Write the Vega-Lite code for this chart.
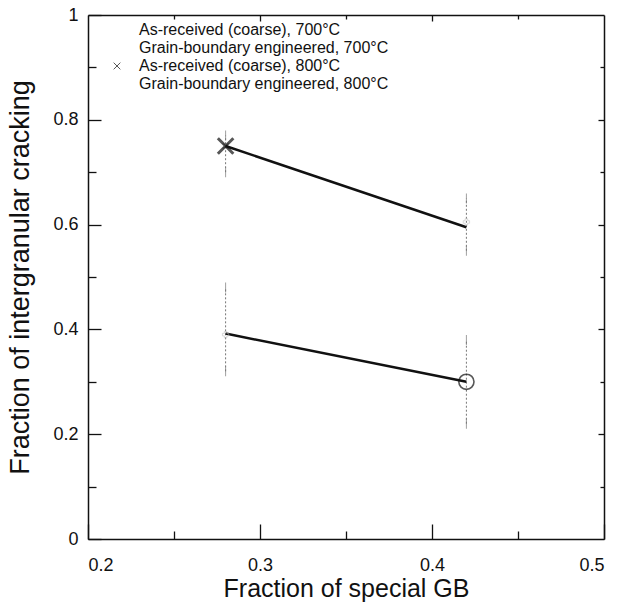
{
  "$schema": "https://vega.github.io/schema/vega-lite/v6.json",
  "width": 516,
  "height": 524,
  "autosize": {"type": "none"},
  "padding": {"left": 88, "top": 15, "right": 16, "bottom": 71},
  "background": "white",
  "config": {
    "font": "Liberation Sans",
    "view": {"stroke": null},
    "axis": {"domainColor": "#111", "domainWidth": 1.5, "tickColor": "#111", "tickWidth": 1.3, "labelColor": "#111", "titleColor": "#111", "grid": false}
  },
  "datasets": {
    "pts": [
      {"series": "As-received (coarse), 700°C", "gb": 0.28, "frac": 0.39, "lo": 0.32, "hi": 0.48},
      {"series": "Grain-boundary engineered, 700°C", "gb": 0.42, "frac": 0.30, "lo": 0.22, "hi": 0.38},
      {"series": "As-received (coarse), 800°C", "gb": 0.28, "frac": 0.75, "lo": 0.70, "hi": 0.77},
      {"series": "Grain-boundary engineered, 800°C", "gb": 0.42, "frac": 0.605, "lo": 0.55, "hi": 0.65}
    ],
    "fit": [
      {"temp": "700", "gb": 0.28, "frac": 0.392},
      {"temp": "700", "gb": 0.42, "frac": 0.30},
      {"temp": "800", "gb": 0.28, "frac": 0.75},
      {"temp": "800", "gb": 0.42, "frac": 0.595}
    ]
  },
  "resolve": {"axis": {"x": "independent", "y": "independent"}},
  "layer": [
    {
      "data": {"name": "pts"},
      "mark": {"type": "rule", "color": "#777", "strokeWidth": 1, "strokeDash": [2, 2]},
      "encoding": {
        "x": {"field": "gb", "type": "quantitative", "scale": {"domain": [0.2, 0.5], "nice": false, "zero": false},
          "axis": {"orient": "bottom", "title": "Fraction of special GB", "titleFontSize": 25, "titleFontWeight": "normal", "titlePadding": 2,
            "values": [0.2, 0.25, 0.3, 0.35, 0.4, 0.45, 0.5], "labelFontSize": 18, "labelPadding": 32,
            "labelExpr": "abs(datum.value*10-round(datum.value*10))<0.001 ? format(datum.value, '.1f') : ''",
            "tickSize": {"condition": {"test": "abs(datum.value*10-round(datum.value*10))<0.001", "value": -15}, "value": -8}}},
        "y": {"field": "lo", "type": "quantitative", "scale": {"domain": [0, 1], "nice": false},
          "axis": {"orient": "left", "title": "Fraction of intergranular cracking", "titleFontSize": 27, "titleFontWeight": "normal", "titlePadding": 18,
            "values": [0, 0.1, 0.2, 0.3, 0.4, 0.5, 0.6, 0.7, 0.8, 0.9, 1], "labelFontSize": 18, "labelPadding": 23,
            "labelExpr": "abs(datum.value*5-round(datum.value*5))<0.001 ? (datum.value==0 ? '0' : datum.value==1 ? '1' : format(datum.value, '.1f')) : ''",
            "tickSize": {"condition": {"test": "abs(datum.value*5-round(datum.value*5))<0.001", "value": -13}, "value": -8}}},
        "y2": {"field": "hi"}
      }
    },
    {
      "data": {"name": "pts"},
      "mark": {"type": "tick", "color": "#777", "thickness": 1, "size": 10},
      "encoding": {
        "x": {"field": "gb", "type": "quantitative", "axis": null},
        "y": {"field": "lo", "type": "quantitative", "axis": null}
      }
    },
    {
      "data": {"name": "pts"},
      "mark": {"type": "tick", "color": "#777", "thickness": 1, "size": 10},
      "encoding": {
        "x": {"field": "gb", "type": "quantitative", "axis": null},
        "y": {"field": "hi", "type": "quantitative", "axis": null}
      }
    },
    {
      "data": {"name": "fit"},
      "mark": {"type": "line", "color": "#111", "strokeWidth": 2.5},
      "encoding": {
        "x": {"field": "gb", "type": "quantitative",
          "axis": {"orient": "top", "title": null, "labels": false, "domainWidth": 1.5, "values": [0.25, 0.3, 0.35, 0.4, 0.45],
            "tickSize": {"condition": {"test": "abs(datum.value*10-round(datum.value*10))<0.001", "value": -6}, "value": -4}}},
        "y": {"field": "frac", "type": "quantitative",
          "axis": {"orient": "right", "title": null, "labels": false, "domainWidth": 1.5, "values": [0.1, 0.2, 0.3, 0.4, 0.5, 0.6, 0.7, 0.8, 0.9],
            "tickSize": {"condition": {"test": "abs(datum.value*5-round(datum.value*5))<0.001", "value": -6}, "value": -4}}},
        "detail": {"field": "temp"}
      }
    },
    {
      "data": {"name": "pts"},
      "transform": [{"filter": "datum.series == 'Grain-boundary engineered, 700°C'"}],
      "mark": {"type": "point", "filled": false, "shape": "circle", "size": 230, "color": "#111", "strokeWidth": 1.6},
      "encoding": {
        "x": {"field": "gb", "type": "quantitative", "axis": null},
        "y": {"field": "frac", "type": "quantitative", "axis": null}
      }
    },
    {
      "data": {"name": "pts"},
      "transform": [{"filter": "datum.series == 'As-received (coarse), 800°C'"}],
      "mark": {"type": "point", "filled": false, "shape": "M-1,-1L1,1M-1,1L1,-1", "size": 240, "color": "#111", "strokeWidth": 3},
      "encoding": {
        "x": {"field": "gb", "type": "quantitative", "axis": null},
        "y": {"field": "frac", "type": "quantitative", "axis": null}
      }
    },
    {
      "data": {"name": "pts"},
      "transform": [{"filter": "datum.series == 'As-received (coarse), 700°C' || datum.series == 'Grain-boundary engineered, 800°C'"}],
      "mark": {"type": "point", "filled": false, "shape": "cross", "size": 40, "color": "#bbb", "strokeWidth": 0.8},
      "encoding": {
        "x": {"field": "gb", "type": "quantitative", "axis": null},
        "y": {"field": "frac", "type": "quantitative", "axis": null}
      }
    },
    {
      "data": {"name": "pts"},
      "mark": {"type": "point", "filled": false, "color": "#111", "size": 30, "strokeWidth": 1},
      "encoding": {
        "x": {"field": "gb", "type": "quantitative", "axis": null},
        "y": {"field": "frac", "type": "quantitative", "axis": null},
        "shape": {"field": "series", "type": "nominal",
          "scale": {"domain": ["As-received (coarse), 700°C", "Grain-boundary engineered, 700°C", "As-received (coarse), 800°C", "Grain-boundary engineered, 800°C"],
            "range": ["M0,0", "M0,0", "M-1,-1L1,1M-1,1L1,-1", "M0,0"]},
          "legend": {"orient": "none", "legendX": 21, "legendY": 7, "title": null, "labelFontSize": 16, "labelColor": "#111", "labelLimit": 0,
            "symbolSize": 45, "symbolStrokeColor": "#111", "symbolStrokeWidth": 1, "rowPadding": 2, "labelOffset": 14, "padding": 0}}
      }
    }
  ]
}
